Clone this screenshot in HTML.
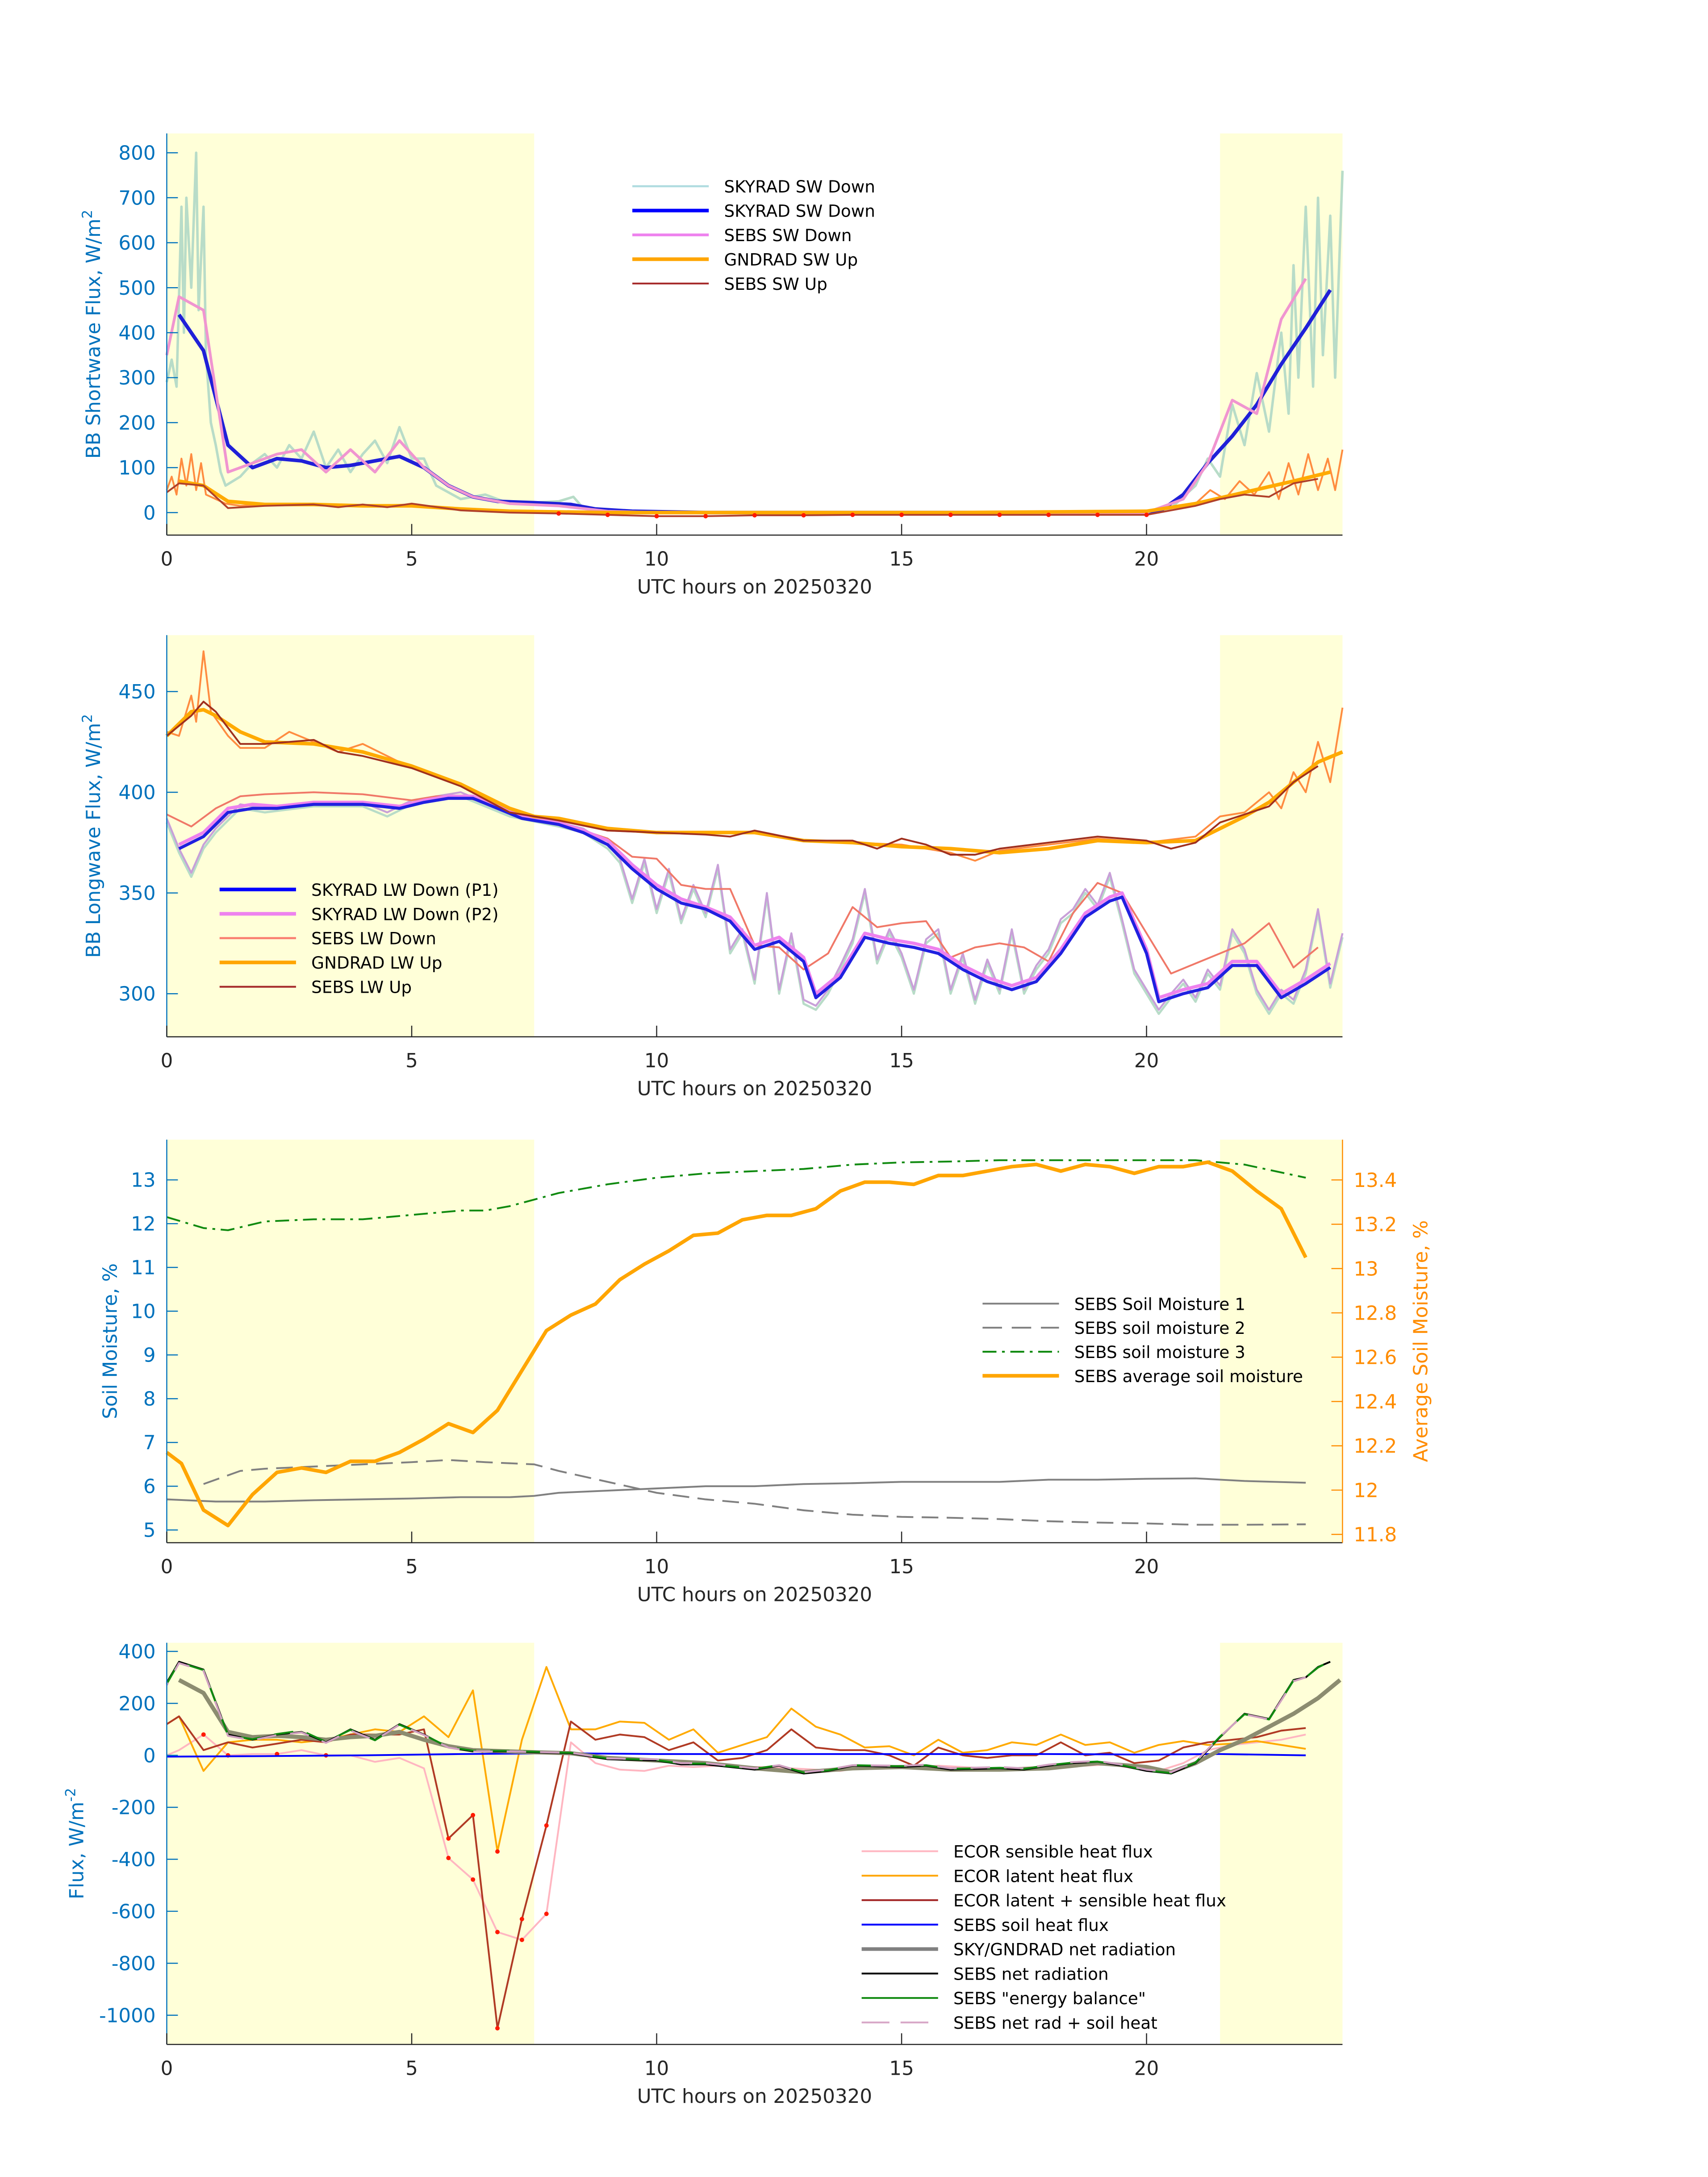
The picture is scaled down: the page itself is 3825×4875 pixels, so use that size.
<!DOCTYPE html>
<html><head><meta charset="utf-8"><style>
html,body{margin:0;padding:0;background:#fff;}
svg{display:block;font-family:"DejaVu Sans","Liberation Sans",sans-serif;}
</style></head><body>
<svg id="chart" width="3825" height="4875" viewBox="0 0 1229 1566.4" preserveAspectRatio="none" xmlns="http://www.w3.org/2000/svg"></svg>
<script>
// ---------- data: panel 1 (shortwave) ----------
const swSkyRawT=[0,0.1,0.2,0.3,0.35,0.4,0.5,0.6,0.65,0.75,0.8,0.9,1.0,1.1,1.2,1.5,1.75,2,2.25,2.5,2.75,3,3.25,3.5,3.75,4,4.25,4.5,4.75,5,5.25,5.5,6,6.5,7,8,8.3,8.5,9,20,20.5,21,21.25,21.5,21.75,22,22.25,22.5,22.75,22.9,23,23.1,23.25,23.4,23.5,23.6,23.75,23.85,24];
const swSkyRawV=[290,340,280,680,400,700,500,800,450,680,350,200,150,90,60,80,110,130,100,150,120,180,100,140,90,130,160,110,190,120,120,60,30,40,20,25,35,10,0,0,10,60,120,80,240,150,310,180,400,220,550,300,680,280,700,350,660,300,760];
const swSkyT=[0.25,0.75,1.25,1.75,2.25,2.75,3.25,3.75,4.25,4.75,5.25,5.75,6.25,6.75,7.5,8.25,8.75,9.5,11,15,20,20.3,20.75,21.25,21.75,22.25,22.75,23.25,23.75];
const swSkyV=[440,360,150,100,120,115,100,105,115,125,100,60,35,25,22,18,8,3,0,0,0,5,40,110,170,240,330,410,495];
const swSebsT=[0,0.25,0.75,1.25,1.75,2.25,2.75,3.25,3.75,4.25,4.75,5.25,5.75,6.25,7,8,9,10,15,20,20.75,21.25,21.75,22.25,22.75,23.25];
const swSebsV=[350,480,450,90,110,130,140,90,140,90,160,100,60,35,20,15,3,0,0,0,30,110,250,220,430,520];
const swGndRawT=[0,0.1,0.2,0.3,0.4,0.5,0.6,0.7,0.8,1,1.2,1.5,2,3,4,5,6,7,9,20,21,21.3,21.6,21.9,22.2,22.5,22.7,22.9,23.1,23.3,23.5,23.7,23.85,24];
const swGndRawV=[50,80,40,120,60,130,50,110,40,30,20,15,18,20,15,18,8,3,0,0,20,50,30,70,40,90,30,110,40,130,50,120,50,140];
const swGndT=[0.25,0.75,1.25,2,3,4,5,6,7,9,12,16,20,21,22,23,23.75];
const swGndV=[70,60,25,18,18,15,15,8,3,0,0,0,3,20,45,70,90];
const swSebsUpT=[0,0.25,0.75,1.25,2,3,3.5,4,4.5,5,6,7,8,9,10,11,12,13,14,15,16,17,18,19,20,21,21.5,22,22.5,23,23.5];
const swSebsUpV=[45,65,60,10,15,18,12,18,12,20,5,0,-2,-5,-8,-8,-6,-6,-5,-5,-5,-5,-5,-5,-5,15,30,40,35,65,75];
// ---------- data: panel 2 (longwave) ----------
const lwRawDownT=[0,0.25,0.5,0.75,1,1.5,2,3,4,4.5,5,6,7,8,8.5,8.75,9,9.25,9.5,9.75,10,10.25,10.5,10.75,11,11.25,11.5,11.75,12,12.25,12.5,12.75,13,13.25,13.5,13.75,14,14.25,14.5,14.75,15,15.25,15.5,15.75,16,16.25,16.5,16.75,17,17.25,17.5,17.75,18,18.25,18.5,18.75,19,19.25,19.5,19.75,20,20.25,20.5,20.75,21,21.25,21.5,21.75,22,22.25,22.5,22.75,23,23.25,23.5,23.75,24];
const lwRawDownV=[385,370,358,372,380,392,390,393,393,388,394,398,388,383,380,376,372,365,345,365,340,360,335,352,338,362,320,330,305,348,300,328,295,292,300,312,325,350,315,330,318,300,325,330,300,318,295,315,300,330,300,312,320,335,340,350,342,358,335,310,300,290,298,305,296,310,302,330,320,300,290,300,295,310,340,303,328];
const lwP1T=[0.25,0.75,1.25,1.75,2.25,3,4,4.75,5.25,5.75,6.25,6.75,7.25,8,8.5,9,9.5,10,10.5,11,11.5,12,12.5,13,13.25,13.75,14.25,14.75,15.25,15.75,16.25,16.75,17.25,17.75,18.25,18.75,19.25,19.5,20,20.25,20.75,21.25,21.75,22.25,22.75,23.25,23.75];
const lwP1V=[372,378,390,392,392,394,394,392,395,397,397,392,387,384,380,374,362,352,345,342,336,322,326,316,298,308,328,325,323,320,312,306,302,306,320,338,346,348,320,296,300,303,314,314,298,305,313];
const lwP2V=[374,380,392,394,393,395,395,393,396,398,398,393,388,385,381,376,364,354,347,343,338,324,328,318,300,310,330,327,325,322,314,308,304,308,322,340,348,350,322,298,302,305,316,316,300,307,315];
const lwSebsDownT=[0,0.5,1,1.5,2,3,4,5,5.5,6,6.5,7,7.5,8,9,9.5,10,10.5,11,11.5,12,12.5,13,13.5,14,14.5,15,15.5,16,16.5,17,17.5,18,18.5,19,19.5,20,20.5,21,21.5,22,22.5,23,23.5];
const lwSebsDownV=[389,383,392,398,399,400,399,396,398,398,395,390,387,385,377,368,367,354,352,352,324,323,312,320,343,333,335,336,318,323,325,323,316,340,355,350,330,310,315,320,325,335,313,323];
const lwRawUpT=[0,0.25,0.5,0.6,0.75,0.9,1.25,1.5,2,2.5,3,3.5,4,5,6,7,8,9,10,12,13,14,15,16,16.5,17,18,19,20,21,21.5,22,22.5,22.75,23,23.25,23.5,23.75,24];
const lwRawUpV=[430,428,448,435,470,440,428,422,422,430,425,420,424,412,404,390,386,381,380,380,376,375,374,370,366,371,374,377,375,378,388,390,400,392,410,400,425,405,442];
const lwGndT=[0,0.5,0.75,1,1.5,2,3,4,5,6,7,7.5,8,9,10,11,12,13,14,15,16,17,18,19,20,21,21.5,22,22.5,23,23.5,24];
const lwGndV=[428,440,441,438,430,425,424,420,413,404,392,388,387,382,380,380,380,376,375,373,372,370,372,376,375,376,382,388,395,405,415,420];
const lwSebsUpT=[0,0.5,0.75,1,1.5,2,3,3.5,4,5,6,7,8,9,10,11,11.5,12,13,14,14.5,15,15.5,16,16.5,17,18,19,20,20.5,21,21.5,22,22.5,23,23.5];
const lwSebsUpV=[428,438,445,440,424,424,426,420,418,412,403,390,386,381,380,379,378,381,376,376,372,377,374,369,369,372,375,378,376,372,375,385,389,393,405,413];
// ---------- data: panel 3 (soil moisture) ----------
const sm1T=[0,1,2,3,4,5,6,7,7.5,8,9,10,11,12,13,14,15,16,17,18,19,20,21,22,23.25];
const sm1V=[5.7,5.65,5.65,5.68,5.7,5.72,5.75,5.75,5.78,5.85,5.9,5.95,6.0,6.0,6.05,6.07,6.1,6.1,6.1,6.15,6.15,6.17,6.18,6.12,6.08];
const sm2T=[0.75,1.5,2,3,4,5,5.75,6.5,7.5,8,9,10,11,12,13,14,15,16,17,18,19,20,21,22,23.25];
const sm2V=[6.05,6.35,6.4,6.45,6.5,6.55,6.6,6.55,6.5,6.35,6.1,5.85,5.7,5.6,5.45,5.35,5.3,5.28,5.25,5.2,5.17,5.15,5.12,5.12,5.13];
const sm3T=[0,0.75,1.25,2,3,4,5,6,6.5,7,8,9,10,11,12,13,14,15,16,17,18,19,20,21,22,23.25];
const sm3V=[12.15,11.9,11.85,12.05,12.1,12.1,12.2,12.3,12.3,12.4,12.7,12.9,13.05,13.15,13.2,13.25,13.35,13.4,13.42,13.45,13.45,13.45,13.45,13.45,13.35,13.05];
const smAvgT=[0,0.3,0.75,1.25,1.75,2.25,2.75,3.25,3.75,4.25,4.75,5.25,5.75,6.25,6.75,7.25,7.75,8.25,8.75,9.25,9.75,10.25,10.75,11.25,11.75,12.25,12.75,13.25,13.75,14.25,14.75,15.25,15.75,16.25,16.75,17.25,17.75,18.25,18.75,19.25,19.75,20.25,20.75,21.25,21.75,22.25,22.75,23.25];
const smAvgV=[12.17,12.12,11.91,11.84,11.98,12.08,12.1,12.08,12.13,12.13,12.17,12.23,12.3,12.26,12.36,12.54,12.72,12.79,12.84,12.95,13.02,13.08,13.15,13.16,13.22,13.24,13.24,13.27,13.35,13.39,13.39,13.38,13.42,13.42,13.44,13.46,13.47,13.44,13.47,13.46,13.43,13.46,13.46,13.48,13.44,13.35,13.27,13.05];
// ---------- data: panel 4 (fluxes) ----------
const hT=[0,0.25,0.75,1.25,1.75,2.25,2.75,3.25,3.75,4.25,4.75,5.25,5.75,6.25,6.75,7.25,7.75,8.25,8.75,9.25,9.75,10.25,10.75,11.25,11.75,12.25,12.75,13.25,13.75,14.25,14.75,15.25,15.75,16.25,16.75,17.25,17.75,18.25,18.75,19.25,19.75,20.25,20.75,21.25,21.75,22.25,22.75,23.25];
const ecSensV=[0,20,80,0,5,5,20,0,0,-25,-10,-50,-395,-478,-680,-710,-610,50,-30,-55,-60,-40,-45,-40,-45,-45,-50,-55,-60,-45,-40,-45,-40,-45,-50,-50,-45,-40,-40,-35,-50,-60,-30,20,40,50,60,80];
const ecLatV=[120,150,-60,50,60,60,50,60,80,100,90,150,70,250,-370,60,340,100,100,130,125,60,100,10,40,70,180,110,80,30,35,0,60,10,20,50,40,80,40,50,10,40,55,40,45,55,40,25];
const ecSumV=[120,150,20,50,30,45,60,50,80,80,80,100,-320,-230,-1050,-630,-270,130,60,80,70,20,50,-20,-10,20,100,30,20,20,0,-40,30,0,-10,0,0,50,0,10,-30,-20,30,50,60,70,95,105];
const soilHT=[0,2,4,6,8,10,12,14,16,18,20,21.5,23.25];
const soilHV=[-5,-3,0,5,8,5,5,5,5,5,3,5,0];
const skyNetT=[0.25,0.75,1.25,1.75,2.25,2.75,3.25,3.75,4.25,4.75,5.25,5.75,6.25,7,7.5,8.25,9,10,11,12,13,14,15,16,17,18,19,20,20.5,21,21.5,22,22.5,23,23.5,23.95];
const skyNetV=[290,240,90,70,75,70,60,70,75,90,60,35,20,15,12,8,-10,-20,-30,-50,-65,-50,-45,-55,-55,-50,-30,-45,-65,-30,20,60,110,160,220,290];
const sebsNetT=[0,0.25,0.75,1.25,1.75,2.25,2.75,3.25,3.75,4.25,4.75,5.25,5.75,6.25,7,7.75,8.25,9,10,10.5,11,12,12.5,13,13.5,14,15,15.5,16,17,17.5,18,18.5,19,19.5,20,20.5,21,21.5,22,22.5,23,23.25,23.5,23.75];
const sebsNetV=[280,360,330,80,60,80,90,50,100,60,120,80,30,15,15,10,8,-15,-20,-35,-35,-55,-40,-70,-60,-40,-45,-40,-55,-50,-55,-40,-30,-25,-40,-60,-70,-30,70,160,140,290,300,340,360];
const sebsEbV=[275,358,328,78,62,82,95,52,98,58,118,78,32,18,17,12,10,-12,-18,-32,-32,-52,-38,-66,-58,-38,-42,-38,-52,-48,-52,-38,-28,-24,-38,-58,-68,-28,72,158,138,288,300,338,362];
const netSoilV=[270,355,325,75,58,78,88,48,95,58,118,78,30,15,15,12,10,-12,-15,-30,-30,-50,-38,-65,-55,-38,-40,-36,-50,-45,-50,-36,-26,-22,-36,-55,-65,-25,72,158,138,285,300,335,355];
// ---------- axes ticks ----------
const xTicks=[0,5,10,15,20];
const yTicks1=[0,100,200,300,400,500,600,700,800];
const yTicks2=[300,350,400,450];
const yTicks3=[5,6,7,8,9,10,11,12,13];
const yTicks3R=[11.8,12,12.2,12.4,12.6,12.8,13,13.2,13.4];
const yTicks4=[-1000,-800,-600,-400,-200,0,200,400];

const NS='http://www.w3.org/2000/svg';
const svg=document.getElementById('chart');
function mk(tag,attrs,parent){const e=document.createElementNS(NS,tag);for(const k in attrs)e.setAttribute(k,attrs[k]);(parent||svg).appendChild(e);return e;}
const X0=120,X1=966;
function sx(t){return X0+(t/24)*(X1-X0);}
function scaleY(top,bot,vmin,vmax){return v=>bot-(v-vmin)/(vmax-vmin)*(bot-top);}
const BLUE='#0072bd',GRAY='#262626';

function panel(name,top,bot,ys,yticks,ylab,ylabX,yfmt){
  const g=mk('g',{});
  
  
  const bg=mk('rect',{x:X0,y:top,width:X1-X0,height:bot-top,fill:'#fff'},g);
  
  
  const s1=mk('rect',{x:sx(0),y:top,width:sx(7.5)-sx(0),height:bot-top,fill:'#ffffd8'},g);
  
  
  const s2=mk('rect',{x:sx(21.5),y:top,width:sx(24)-sx(21.5),height:bot-top,fill:'#ffffd8'},g);
  
  
  const series=mk('g',{},g);
  
  
  const ax=mk('g',{},g);
  
  
  mk('line',{x1:X0,y1:bot,x2:X1,y2:bot,stroke:GRAY,'stroke-width':0.8},ax);
  mk('line',{x1:X0,y1:top,x2:X0,y2:bot,stroke:BLUE,'stroke-width':0.8},ax);
  xTicks.forEach(t=>{
    mk('line',{x1:sx(t),y1:bot,x2:sx(t),y2:bot-8,stroke:GRAY,'stroke-width':0.8},ax);
    const tl=mk('text',{x:sx(t),y:bot+22,'font-size':14,'text-anchor':'middle',fill:GRAY},ax);
    tl.textContent=t;
    
    
  });
  yticks.forEach(v=>{
    const y=ys(v);
    mk('line',{x1:X0,y1:y,x2:X0+8,y2:y,stroke:BLUE,'stroke-width':0.8},ax);
    const tl=mk('text',{x:X0-8,y:y+5,'font-size':14,'text-anchor':'end',fill:BLUE},ax);
    tl.textContent=yfmt?yfmt(v):v;
    
    
  });
  const xl=mk('text',{x:543,y:bot+42,'font-size':14,'text-anchor':'middle',fill:GRAY},ax);
  xl.textContent='UTC hours on 20250320';
  
  
  const cy=(top+bot)/2;
  const yl=mk('text',{x:ylabX,y:cy,'font-size':14,'text-anchor':'middle',fill:BLUE,transform:`rotate(-90 ${ylabX} ${cy})`},ax);
  yl.innerHTML=ylab;
  
  
  return {g,series,ax};
}
function line(parent,name,T,V,ys,color,w,extra){
  const d=T.map((t,i)=>(i?'L':'M')+sx(t).toFixed(2)+','+ys(V[i]).toFixed(2)).join('');
  const p=mk('path',Object.assign({d,fill:'none',stroke:color,'stroke-width':w,'stroke-linejoin':'round'},extra||{}),parent);
  
  
  return p;
}
function dots(parent,name,T,V,ys,filter){
  T.forEach((t,i)=>{ if(filter(t,V[i])){
    const c=mk('circle',{cx:sx(t),cy:ys(V[i]),r:1.6,fill:'#ff1a00'},parent);
    
    
  }});
}
function legend(parent,x,y0,dy,items){
  const lg=mk('g',{},parent);
  
  
  items.forEach((it,i)=>{
    const y=y0+i*dy;
    const ent=mk('g',{},lg);
    
    
    mk('line',Object.assign({x1:x,y1:y,x2:x+55,y2:y,stroke:it[1],'stroke-width':it[2]},it[3]||{}),ent);
    const tx=mk('text',{x:x+66,y:y+4.5,'font-size':12,fill:'#000'},ent);
    tx.textContent=it[0];
  });
}

// ---------- Panel 1 ----------
(function(){
  const top=96,bot=385;
  const ys=scaleY(top,bot,-50,843);
  const P=panel('shortwave-panel',top,bot,ys,yTicks1,'BB Shortwave Flux, W/m<tspan baseline-shift="super" font-size="10">2</tspan>',72);
  line(P.series,'skyrad-sw-down-raw',swSkyRawT,swSkyRawV,ys,'#b8dcc8',1.8);
  line(P.series,'gndrad-sw-up-raw',swGndRawT,swGndRawV,ys,'#ff8c40',1.3);
  line(P.series,'skyrad-sw-down',swSkyT,swSkyV,ys,'#2020d8',2.6);
  line(P.series,'sebs-sw-down',swSebsT,swSebsV,ys,'#f095d0',2);
  line(P.series,'gndrad-sw-up',swGndT,swGndV,ys,'#ffaa00',2.6);
  line(P.series,'sebs-sw-up',swSebsUpT,swSebsUpV,ys,'#b0402a',1.3);
  dots(P.series,'sebs-sw-up-marker',swSebsUpT,swSebsUpV,ys,(t)=>t>=8&&t<=20);
  legend(P.g,455,134,17.5,[['SKYRAD SW Down','#b0dce0',1.5],['SKYRAD SW Down','#0000ff',2.6],['SEBS SW Down','#ee82ee',2],['GNDRAD SW Up','#ffa500',2.6],['SEBS SW Up','#a52a2a',1.3]]);
})();
// ---------- Panel 2 ----------
(function(){
  const top=457,bot=746;
  const ys=scaleY(top,bot,278.6,478);
  const P=panel('longwave-panel',top,bot,ys,yTicks2,'BB Longwave Flux, W/m<tspan baseline-shift="super" font-size="10">2</tspan>',72);
  line(P.series,'skyrad-lw-down-raw-p1',lwRawDownT,lwRawDownV,ys,'#b8dcc8',1.6);
  line(P.series,'skyrad-lw-down-raw-p2',lwRawDownT,lwRawDownV.map(v=>v+2),ys,'#c8a0d8',1.4);
  line(P.series,'gndrad-lw-up-raw',lwRawUpT,lwRawUpV,ys,'#ff8c40',1.3);
  line(P.series,'sebs-lw-down',lwSebsDownT,lwSebsDownV,ys,'#f07868',1.3);
  line(P.series,'skyrad-lw-down-p2',lwP1T,lwP2V,ys,'#ee82ee',2.4);
  line(P.series,'skyrad-lw-down-p1',lwP1T,lwP1V,ys,'#2020e0',2.2);
  line(P.series,'gndrad-lw-up',lwGndT,lwGndV,ys,'#ffaa00',2.6);
  line(P.series,'sebs-lw-up',lwSebsUpT,lwSebsUpV,ys,'#a0301e',1.3);
  legend(P.g,158,640,17.5,[['SKYRAD LW Down (P1)','#0000ff',2.6],['SKYRAD LW Down (P2)','#ee82ee',2.6],['SEBS LW Down','#fa8072',1.5],['GNDRAD LW Up','#ffa500',2.6],['SEBS LW Up','#a52a2a',1.3]]);
})();
// ---------- Panel 3 ----------
(function(){
  const top=820,bot=1110;
  const ys=scaleY(top,bot,4.71,13.92);
  const yr=v=>849+(13.4-v)*159.4;
  const P=panel('soil-moisture-panel',top,bot,ys,yTicks3,'Soil Moisture, %',84);
  const OR='#ff8c00';
  mk('line',{x1:X1,y1:top,x2:X1,y2:bot,stroke:OR,'stroke-width':0.8},P.ax);
  yTicks3R.forEach(v=>{
    mk('line',{x1:X1,y1:yr(v),x2:X1-8,y2:yr(v),stroke:OR,'stroke-width':0.8},P.ax);
    const tl=mk('text',{x:X1+8,y:yr(v)+5,'font-size':14,fill:OR},P.ax);
    tl.textContent=v;
    
    
  });
  const rl=mk('text',{x:1027,y:965,'font-size':14,'text-anchor':'middle',fill:OR,transform:'rotate(-90 1027 965)'},P.ax);
  rl.textContent='Average Soil Moisture, %';
  
  
  line(P.series,'sebs-soil-moisture-1',sm1T,sm1V,ys,'#808080',1.3);
  line(P.series,'sebs-soil-moisture-2',sm2T,sm2V,ys,'#808080',1.3,{'stroke-dasharray':'12,6'});
  line(P.series,'sebs-soil-moisture-3',sm3T,sm3V,ys,'#108a10',1.3,{'stroke-dasharray':'10,4,2,4'});
  line(P.series,'sebs-average-soil-moisture',smAvgT,smAvgV,yr,'#ffa500',2.6);
  legend(P.g,707,938,17.3,[['SEBS Soil Moisture 1','#808080',1.3],['SEBS soil moisture 2','#808080',1.3,{'stroke-dasharray':'14,7'}],['SEBS soil moisture 3','#108a10',1.3,{'stroke-dasharray':'10,4,2,4'}],['SEBS average soil moisture','#ffa500',2.6]]);
})();
// ---------- Panel 4 ----------
(function(){
  const top=1182,bot=1471;
  const ys=v=>1263-v*0.187;
  const P=panel('flux-panel',top,bot,ys,yTicks4,'Flux, W/m<tspan baseline-shift="super" font-size="10">-2</tspan>',60);
  line(P.series,'ecor-sensible-heat-flux',hT,ecSensV,ys,'#ffb6c1',1.3);
  line(P.series,'ecor-latent-heat-flux',hT,ecLatV,ys,'#ffaa00',1.3);
  line(P.series,'ecor-latent-plus-sensible',hT,ecSumV,ys,'#b03a24',1.3);
  dots(P.series,'ecor-marker',hT,ecSensV,ys,(t,v)=>v<-300||(t<5&&[0.75,1.25,2.25,3.25].includes(t)));
  dots(P.series,'ecor-marker',hT,ecSumV,ys,(t,v)=>v<-200);
  dots(P.series,'ecor-marker',hT,ecLatV,ys,(t,v)=>v<-300);
  line(P.series,'sebs-soil-heat-flux',soilHT,soilHV,ys,'#0000ff',1.3);
  line(P.series,'sky-gndrad-net-radiation',skyNetT,skyNetV,ys,'#8c8c70',3);
  line(P.series,'sebs-net-radiation',sebsNetT,sebsNetV,ys,'#000',1.3);
  line(P.series,'sebs-energy-balance',sebsNetT,sebsEbV,ys,'#108a10',1.4,{'stroke-dasharray':'14,10'});
  line(P.series,'sebs-net-rad-plus-soil-heat',sebsNetT.slice(0,43),netSoilV.slice(0,43),ys,'#d0a0c0',1.4,{'stroke-dasharray':'14,10','stroke-dashoffset':'12'});
  legend(P.g,620,1332,17.6,[['ECOR sensible heat flux','#ffb6c1',1.3],['ECOR latent heat flux','#ffa500',1.3],['ECOR latent + sensible heat flux','#a52a2a',1.3],['SEBS soil heat flux','#0000ff',1.3],['SKY/GNDRAD net radiation','#808080',2.6],['SEBS net radiation','#000',1.3],['SEBS "energy balance"','#108a10',1.3],['SEBS net rad + soil heat','#d8a8c8',1.3,{'stroke-dasharray':'20,8'}]]);
})();
</script>
</body></html>
